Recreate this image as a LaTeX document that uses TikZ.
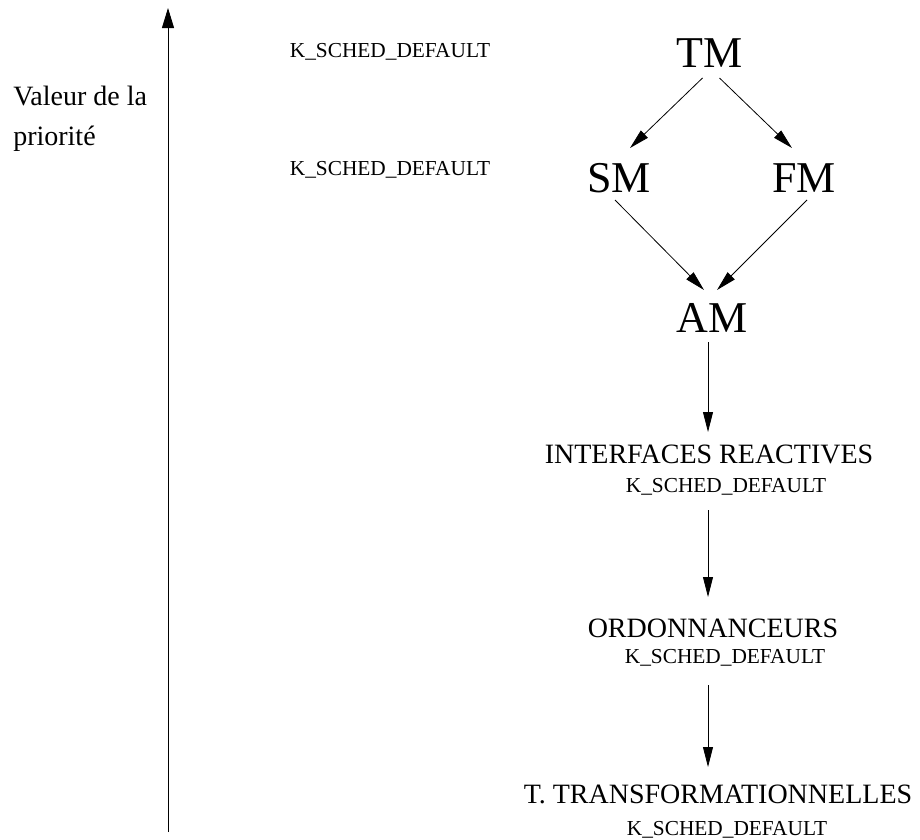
\documentclass[tikz,border=0pt]{standalone}
\usepackage{fontspec}
\setmainfont{Liberation Serif}
\usetikzlibrary{arrows.meta,calc}
\begin{document}
\begin{tikzpicture}[x=0.75pt,y=-0.75pt,
  big/.style={font=\fontsize{33}{38}\selectfont, inner sep=0pt, anchor=base},
  mid/.style={font=\fontsize{21}{25}\selectfont, inner sep=0pt, anchor=base},
  tag/.style={font=\fontsize{16}{19}\selectfont, inner sep=0pt, anchor=base},
  side/.style={font=\fontsize{21}{25}\selectfont, inner sep=0pt, anchor=base west},
  arr/.style={-{Triangle[length=15pt,width=7.5pt]}, line width=0.6pt},
  axisarr/.style={-{Triangle[length=15pt,width=9pt]}, line width=0.7pt}]
\useasboundingbox (0,0) rectangle (920,839);

% priority axis
\coordinate (axbot) at (168,832);
\coordinate (axtop) at (168,8);
\draw[axisarr] (axbot) -- (axtop);
\node[side] (val) at (13,105) {Valeur de la};
\node[side] (prio) at (13,145) {priorité};

% priority levels
\node[tag] (k1) at (390,57) {K\_SCHED\_DEFAULT};
\node[tag] (k2) at (390,175) {K\_SCHED\_DEFAULT};

% managers
\node[big] (tm) at (709.5,67) {TM};
\node[big] (sm) at (619,192) {SM};
\node[big] (fm) at (804,192) {FM};
\node[big] (am) at (712,332) {AM};

% lower layers
\node[mid] (ir) at (709,463) {INTERFACES REACTIVES};
\node[tag] (kir) at (726,492) {K\_SCHED\_DEFAULT};
\node[mid] (ord) at (713,637) {ORDONNANCEURS};
\node[tag] (kord) at (725,663) {K\_SCHED\_DEFAULT};
\node[mid] (tt) at (718,803) {T. TRANSFORMATIONNELLES};
\node[tag] (ktt) at (727,835) {K\_SCHED\_DEFAULT};

% dependencies
\draw[arr] ($(tm.base)+(-7,11)$) -- ($(sm.base)+(11,-44)$);
\draw[arr] ($(tm.base)+(10,11)$) -- ($(fm.base)+(-12,-44)$);
\draw[arr] ($(sm.base)+(-4,8)$) -- ($(am.base)+(-8,-42)$);
\draw[arr] ($(fm.base)+(3,8)$) -- ($(am.base)+(5,-42)$);
\draw[arr] ($(am.base)+(-4,10)$) -- ($(ir.base)+(-1,-31)$);
\draw[arr] ($(kir.base)+(-18,18)$) -- ($(ord.base)+(-5,-40)$);
\draw[arr] ($(kord.base)+(-17,22)$) -- ($(tt.base)+(-10,-36)$);
\end{tikzpicture}
\end{document}
